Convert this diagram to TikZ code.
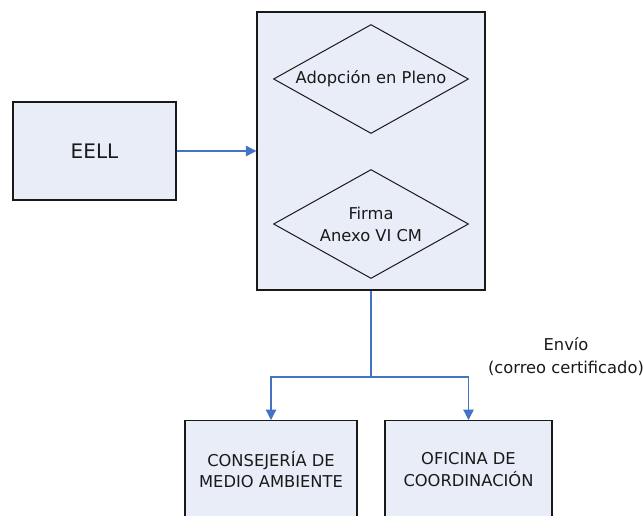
\documentclass[tikz,border=0pt]{standalone}
\usepackage{fontspec}
\setmainfont{DejaVu Sans}
\usetikzlibrary{shapes.geometric,arrows.meta}
\definecolor{boxfill}{RGB}{232,237,247}
\definecolor{linkblue}{RGB}{68,114,196}
\definecolor{txt}{RGB}{25,25,25}
\tikzset{
  boxnode/.style={draw=black!90, line width=1.3pt, fill=boxfill, text=txt, align=center, inner sep=0pt,
    font=\fontsize{16.3}{21.5}\selectfont},
  dianode/.style={diamond, aspect=1.79, draw=black!90, line width=1pt, fill=boxfill, text=txt, align=center, inner sep=0pt,
    minimum width=195pt, minimum height=109pt, font=\fontsize{16.3}{22}\selectfont},
  link/.style={draw=linkblue, line width=1.2pt},
  arr/.style={link, -{Triangle[length=10.5pt,width=10.5pt]}},
}
\begin{document}
\begin{tikzpicture}[x=1pt,y=-1pt]
\useasboundingbox (0,0) rectangle (644,515);
\clip (0,0) rectangle (644,515);
\node[boxnode, minimum width=163pt, minimum height=98pt, font=\fontsize{20}{24}\selectfont] (eell) at (94.5,151) {EELL};
\node[boxnode, minimum width=228pt, minimum height=278pt] (big) at (371,151) {};
\node[dianode] (adop) at (371,79) {Adopción en Pleno};
\node[dianode] (firma) at (371,224) {Firma\\Anexo VI CM};
\node[boxnode, anchor=north, minimum width=172pt, minimum height=98pt] (cons) at (271,420) {CONSEJERÍA DE\\MEDIO AMBIENTE};
\node[boxnode, anchor=north, minimum width=167pt, minimum height=98pt] (ofi) at (468.5,420) {OFICINA DE\\COORDINACIÓN};
\node[text=txt, align=center, font=\fontsize{16.3}{23}\selectfont] (envio) at (566,357) {Envío\\(correo certificado)};
\coordinate (jn) at (371,377);
\draw[arr] (eell.east) -- (eell.east -| big.west);
\draw[link] (big.south) -- (jn);
\draw[arr] (jn) -| (cons.north);
\draw[arr] (jn) -| (ofi.north);
\end{tikzpicture}
\end{document}
